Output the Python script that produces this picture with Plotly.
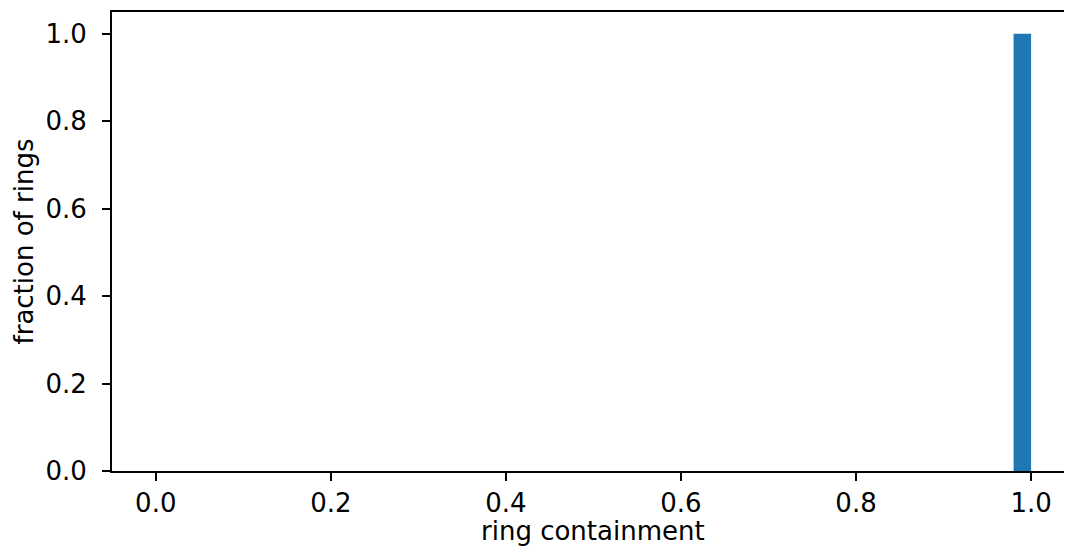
import plotly.graph_objects as go

# histogram of ring containment (one bin filled)
bin_left = [0.98]
bin_right = [1.0]
fraction = [1.0]

x_ticks = [0.0, 0.2, 0.4, 0.6, 0.8, 1.0]
y_ticks = [0.0, 0.2, 0.4, 0.6, 0.8, 1.0]

font = dict(family="DejaVu Sans", size=26, color="black")

fig = go.Figure(go.Bar(
    x=[(a + b) / 2 for a, b in zip(bin_left, bin_right)],
    y=fraction,
    width=[b - a for a, b in zip(bin_left, bin_right)],
    marker=dict(color="#1f77b4", line=dict(width=0)),
))

axis_style = dict(
    showline=True, linecolor="black", linewidth=2,
    ticks="outside", ticklen=8, tickwidth=2, tickcolor="black",
    showgrid=False, zeroline=False, tickfont=font, automargin=False,
)

fig.update_xaxes(
    range=[-0.05, 1.0376], tickvals=x_ticks,
    ticktext=[f"{v:.1f}" for v in x_ticks], mirror=True,
    **axis_style,
)
fig.update_yaxes(
    range=[0, 1.05], tickvals=y_ticks,
    ticktext=[f"{v:.1f}" for v in y_ticks], ticklabelstandoff=10,
    title=dict(text="fraction of rings", font=font, standoff=4),
    **axis_style,
)

# x title as annotation (standoff is ignored without automargin)
fig.add_annotation(
    text="ring containment", xref="paper", yref="paper",
    x=0.505, y=0, yanchor="middle", yshift=-60,
    showarrow=False, font=font,
)

# page body has an 8px margin, so the figure is sized to fit inside it
fig.update_layout(
    width=1056, height=538,
    margin=dict(l=104, r=0, t=4, b=75),
    plot_bgcolor="white", paper_bgcolor="white",
    showlegend=False, font=font,
)

fig.write_html("out.html")
